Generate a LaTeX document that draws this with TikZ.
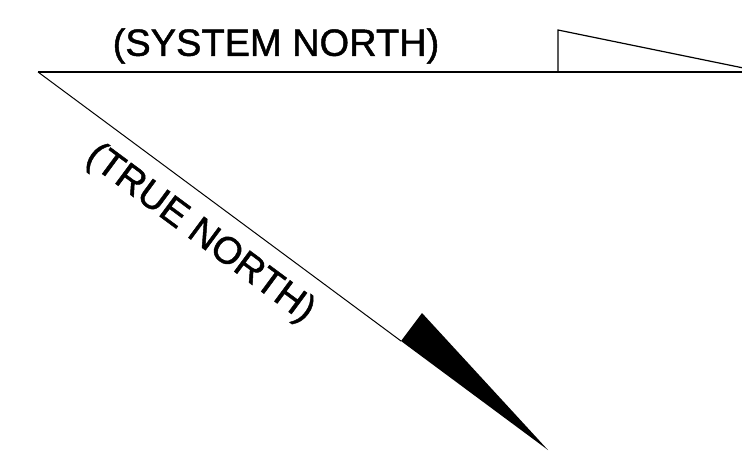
\documentclass[tikz,border=0pt]{standalone}
\usepackage{fontspec}
\setmainfont{Liberation Sans}[BoldFont=Liberation Sans, BoldFeatures={FakeBold=1.2}]
\usetikzlibrary{calc}

\begin{document}
\begin{tikzpicture}[
  x=1pt, y=-1pt,
  axis/.style={draw, line width=1.5pt},
  trueline/.style={draw, line width=1pt},
  label/.style={font=\fontsize{38}{40}\selectfont\bfseries, inner sep=0pt}
]
  \useasboundingbox (0,0) rectangle (742,451);
  \clip (0,0) rectangle (742,451);

  % Points
  \coordinate (o)    at (38,72);
  \coordinate (east) at (742,72);
  \coordinate (sb)   at (558,72);
  \coordinate (st)   at (558,30);
  \coordinate (se)   at (763,72);
  \coordinate (tb)   at (401,341);
  \coordinate (tt)   at (422,313);
  \coordinate (tip)  at (548,450);

  % System north
  \draw[axis] (o) -- (east);
  \draw[line width=1.2pt] (sb) -- (st) -- (se);
  \node[label] (sys) at (276,46) {(SYSTEM NORTH)};

  % True north
  \draw[trueline] (o) -- (tb);
  \fill (tb) -- (tt) -- (tip) -- cycle;
  \node[label, rotate=-36.5] (tru) at (200,234) {(TRUE NORTH)};
\end{tikzpicture}
\end{document}
